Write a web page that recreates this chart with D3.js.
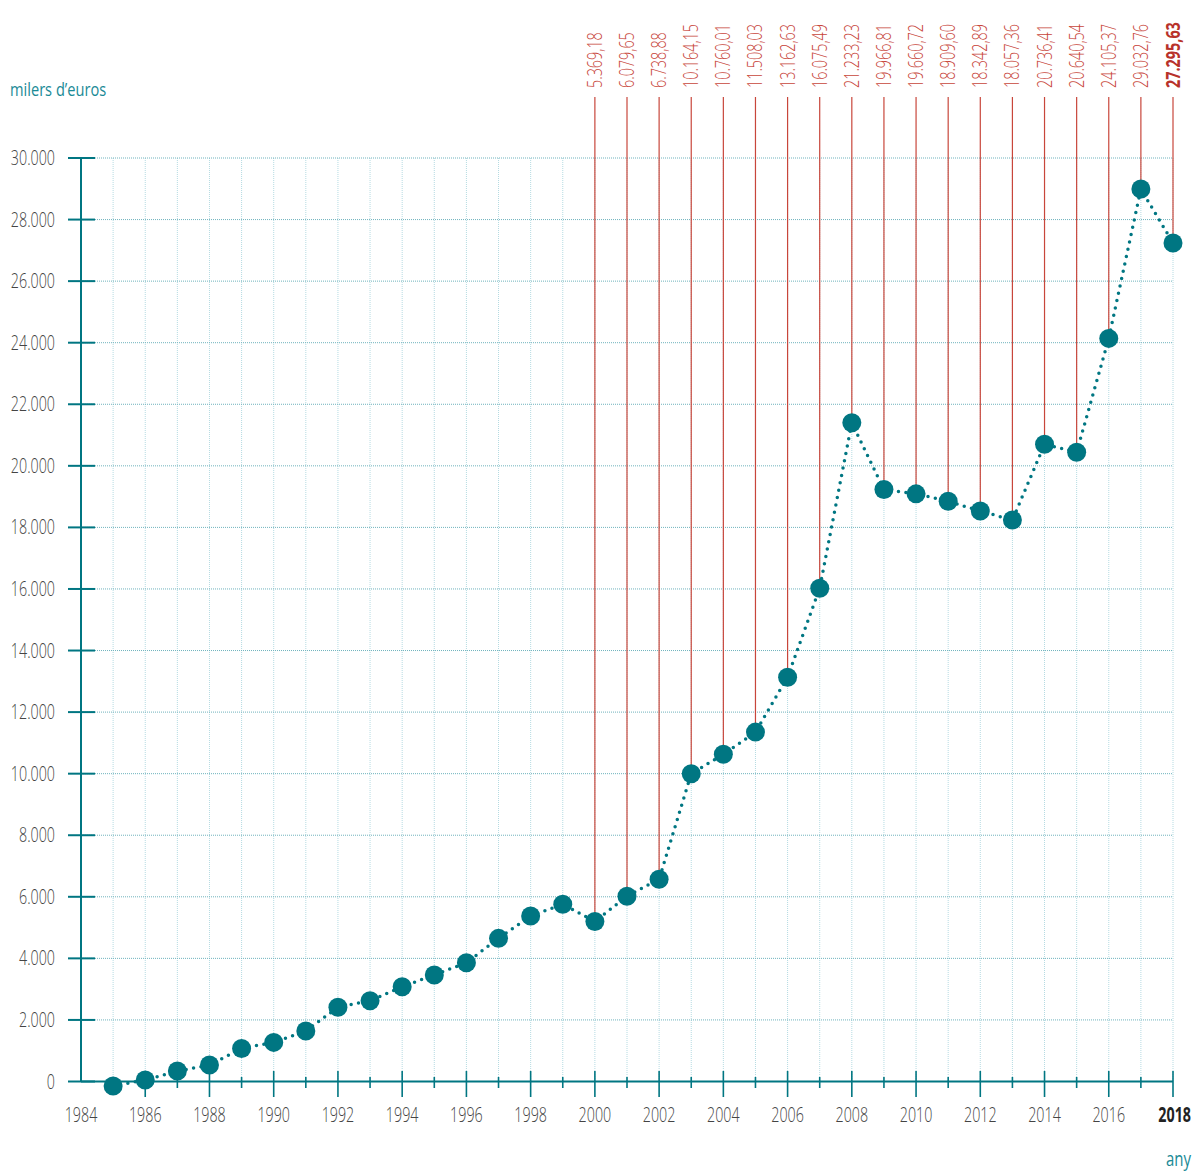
<!DOCTYPE html>
<html>
<head>
<meta charset="utf-8">
<script src="https://cdn.jsdelivr.net/npm/d3@7"></script>
<style>
  body { margin: 0; background: #fff; }
  svg text { font-family: "Open Sans", "Noto Sans", sans-serif; font-weight: 300; }
</style>
</head>
<body>
<div id="chart"></div>
<script>
var years = [1985, 1986, 1987, 1988, 1989, 1990, 1991, 1992, 1993, 1994, 1995, 1996, 1997, 1998, 1999,
             2000, 2001, 2002, 2003, 2004, 2005, 2006, 2007, 2008, 2009, 2010, 2011, 2012, 2013, 2014, 2015, 2016, 2017, 2018];
var values = [-145, 50, 340, 535, 1075, 1270, 1640, 2410, 2625, 3080, 3460, 3860, 4650, 5375, 5755,
              5200, 6020, 6570, 10000, 10630, 11350, 13135, 16025, 21400, 19230, 19090, 18850, 18530, 18240,
              20700, 20440, 24140, 28990, 27240];
// value labels printed above the chart, 2000-2018
var labelYears = d3.range(2000, 2019);
var labelTexts = ["5.369,18", "6.079,65", "6.738,88", "10.164,15", "10.760,01", "11.508,03", "13.162,63", "16.075,49",
                  "21.233,23", "19.966,81", "19.660,72", "18.909,60", "18.342,89", "18.057,36", "20.736,41", "20.640,54",
                  "24.105,37", "29.032,76", "27.295,63"];
var yTicks = [0, 2000, 4000, 6000, 8000, 10000, 12000, 14000, 16000, 18000, 20000, 22000, 24000, 26000, 28000, 30000];
var xTicks = d3.range(1984, 2019, 2);

var teal = "#007682", red = "#c8463b";

var width = 1196, height = 1171;
var svg = d3.select("#chart").append("svg")
    .attr("width", width)
    .attr("height", height);

var x = d3.scaleLinear().domain([1984, 2018]).range([81, 1173]);
var y = d3.scaleLinear().domain([0, 30000]).range([1081.5, 158]);

var data = years.map(function(d, i) { return {year: d, value: values[i]}; });
var valueOf = {};
data.forEach(function(d) { valueOf[d.year] = d.value; });
var labels = labelYears.map(function(d, i) { return {year: d, text: labelTexts[i], value: valueOf[d]}; });

// squeeze text horizontally to mimic a condensed face
function condense(sel, k) {
  sel.each(function() {
    var w = this.getComputedTextLength();
    d3.select(this).attr("textLength", w * k).attr("lengthAdjust", "spacingAndGlyphs");
  });
}

// grid
svg.append("g").selectAll("line")
    .data(d3.range(1985, 2019))
  .enter().append("line")
    .attr("x1", function(d) { return x(d); })
    .attr("x2", function(d) { return x(d); })
    .attr("y1", y(30000))
    .attr("y2", y(0))
    .attr("stroke", "#b5dbe2")
    .attr("stroke-width", 1)
    .attr("stroke-dasharray", "1 1");

svg.append("g").selectAll("line")
    .data(yTicks.slice(1))
  .enter().append("line")
    .attr("x1", x(1984))
    .attr("x2", x(2018))
    .attr("y1", function(d) { return y(d); })
    .attr("y2", function(d) { return y(d); })
    .attr("stroke", "#6fb3bd")
    .attr("stroke-width", 1)
    .attr("stroke-dasharray", "1 1");

// red drop lines with labels
svg.append("g").selectAll("line")
    .data(labels)
  .enter().append("line")
    .attr("x1", function(d) { return x(d.year); })
    .attr("x2", function(d) { return x(d.year); })
    .attr("y1", 97)
    .attr("y2", function(d) { return y(d.value); })
    .attr("stroke", red)
    .attr("stroke-width", 1.2);

svg.append("g").selectAll("text")
    .data(labels)
  .enter().append("text")
    .attr("transform", function(d) { return "translate(" + (x(d.year) + 7) + ",88) rotate(-90)"; })
    .attr("fill", function(d) { return d.year == 2018 ? "#b8322a" : red; })
    .style("font-size", "20px")
    .style("font-weight", function(d) { return d.year == 2018 ? "bold" : "300"; })
    .text(function(d) { return d.text; })
    .call(condense, 0.72);

// axes
var axis = svg.append("g").attr("stroke", teal);
axis.append("line")
    .attr("x1", x(1984)).attr("x2", x(1984))
    .attr("y1", y(30000)).attr("y2", y(0))
    .attr("stroke-width", 2);
axis.append("line")
    .attr("x1", x(1984)).attr("x2", x(2018))
    .attr("y1", y(0)).attr("y2", y(0))
    .attr("stroke-width", 2);
axis.selectAll(".yt")
    .data(yTicks)
  .enter().append("line")
    .attr("class", "yt")
    .attr("x1", 68).attr("x2", 95)
    .attr("y1", function(d) { return y(d); })
    .attr("y2", function(d) { return y(d); })
    .attr("stroke-width", 2);
axis.selectAll(".xt")
    .data(d3.range(1985, 2019))
  .enter().append("line")
    .attr("class", "xt")
    .attr("x1", function(d) { return x(d); })
    .attr("x2", function(d) { return x(d); })
    .attr("y1", function(d) { return d % 2 == 0 ? 1071 : 1077; })
    .attr("y2", function(d) { return d % 2 == 0 ? 1097 : 1088; })
    .attr("stroke-width", 1.6);

var fmt = d3.formatLocale({decimal: ",", thousands: ".", grouping: [3], currency: ["", "€"]}).format(",d");

svg.append("g").selectAll("text")
    .data(yTicks)
  .enter().append("text")
    .attr("x", 55)
    .attr("y", function(d) { return y(d) + 7; })
    .attr("text-anchor", "end")
    .attr("fill", "#444")
    .style("font-size", "21px")
    .text(function(d) { return fmt(d); })
    .call(condense, 0.68);

svg.append("g").selectAll("text")
    .data(xTicks)
  .enter().append("text")
    .attr("x", function(d) { return d == 2018 ? 1191 : x(d); })
    .attr("y", 1122)
    .attr("text-anchor", function(d) { return d == 2018 ? "end" : "middle"; })
    .attr("fill", function(d) { return d == 2018 ? "#222" : "#444"; })
    .style("font-size", "21px")
    .style("font-weight", function(d) { return d == 2018 ? "bold" : "300"; })
    .text(function(d) { return d; })
    .call(condense, 0.68);

svg.append("text")
    .attr("x", 10).attr("y", 96)
    .attr("fill", "#1a8a96")
    .style("font-size", "19px")
    .style("font-weight", "400")
    .text("milers d’euros")
    .call(condense, 0.77);

svg.append("text")
    .attr("x", 1191).attr("y", 1166)
    .attr("text-anchor", "end")
    .attr("fill", "#1a8a96")
    .style("font-size", "20px")
    .style("font-weight", "400")
    .text("any")
    .call(condense, 0.75);

// dotted line and points
var line = d3.line()
    .x(function(d) { return x(d.year); })
    .y(function(d) { return y(d.value); });

svg.append("path")
    .datum(data)
    .attr("d", line)
    .attr("fill", "none")
    .attr("stroke", teal)
    .attr("stroke-width", 3.5)
    .attr("stroke-linecap", "round")
    .attr("stroke-dasharray", "0 7.5");

svg.append("g").selectAll("circle")
    .data(data)
  .enter().append("circle")
    .attr("cx", function(d) { return x(d.year); })
    .attr("cy", function(d) { return y(d.value); })
    .attr("r", 9.5)
    .attr("fill", teal);
</script>
</body>
</html>
